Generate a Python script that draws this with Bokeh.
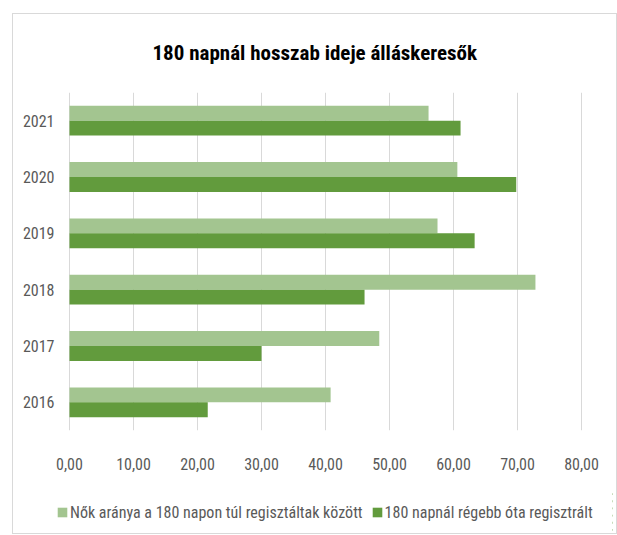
from bokeh.plotting import figure
from bokeh.layouts import column
from bokeh.models import ColumnDataSource, FactorRange, Range1d, FixedTicker, Legend, LegendItem, Title
from bokeh.transform import dodge
from bokeh.embed import file_html
from bokeh.resources import INLINE

years = ["2016", "2017", "2018", "2019", "2020", "2021"]
women_share = [40.8, 48.4, 72.8, 57.5, 60.6, 56.1]
over_180 = [21.6, 30.0, 46.1, 63.3, 69.8, 61.1]
x_ticks = [0, 10, 20, 30, 40, 50, 60, 70, 80]
x_tick_labels = ["0,00", "10,00", "20,00", "30,00", "40,00", "50,00", "60,00", "70,00", "80,00"]
series_names = ["Nők aránya a 180 napon túl regisztáltak között", "180 napnál régebb óta regisztrált"]
title_text = "180 napnál hosszab ideje álláskeresők"

FONT = "Roboto Condensed"
LIGHT = "#a3c590"
DARK = "#629b3d"
GRAY = "#595959"

src = ColumnDataSource(dict(year=years, women=women_share, over=over_180))

# main chart
p = figure(width=603, height=476, y_range=FactorRange(factors=years, range_padding=0),
           x_range=Range1d(-2.03, 84.84), output_backend="svg", toolbar_location=None,
           min_border_left=43, min_border_right=4, min_border_top=78, min_border_bottom=60)

r1 = p.hbar(y=dodge("year", 0.1325, range=p.y_range), right="women", left=0, height=0.265,
            source=src, color=LIGHT, line_color=None)
r2 = p.hbar(y=dodge("year", -0.1325, range=p.y_range), right="over", left=0, height=0.265,
            source=src, color=DARK, line_color=None)

p.outline_line_color = None
p.ygrid.grid_line_color = None
p.xgrid.grid_line_color = "#d9d9d9"
p.xgrid.grid_line_width = 1
p.xaxis.ticker = FixedTicker(ticks=x_ticks)
p.xaxis.major_label_overrides = {t: l for t, l in zip(x_ticks, x_tick_labels)}
p.xaxis.axis_line_color = None
p.xaxis.major_tick_line_color = None
p.xaxis.minor_tick_line_color = None
p.xaxis.major_label_standoff = 21
p.yaxis.axis_line_color = None
p.yaxis.major_tick_line_color = None
p.yaxis.minor_tick_line_color = None
p.yaxis.major_tick_out = 0
p.yaxis.major_tick_in = 0
p.yaxis.major_label_standoff = 2
for ax in (p.xaxis, p.yaxis):
    ax.major_label_text_font = FONT
    ax.major_label_text_font_size = "16px"
    ax.major_label_text_color = GRAY

t = Title(text=title_text, align="left", vertical_align="top", text_font=FONT,
          text_font_size="21px", text_font_style="bold", text_color="#000000",
          standoff=51, offset=96)
p.add_layout(t, "above")

# legend strip
p2 = figure(width=603, height=43, y_range=FactorRange(factors=years), x_range=Range1d(-10, -9),
            output_backend="svg", toolbar_location=None, x_axis_location=None, y_axis_location=None,
            min_border_left=0, min_border_right=0, min_border_top=0, min_border_bottom=0)
p2.outline_line_color = None
p2.grid.grid_line_color = None
l1 = p2.hbar(y="year", right="women", left=0, height=0.265, source=src, color=LIGHT, line_color=None)
l2 = p2.hbar(y="year", right="over", left=0, height=0.265, source=src, color=DARK, line_color=None)

legend = Legend(items=[LegendItem(label=series_names[0], renderers=[l1]),
                       LegendItem(label=series_names[1], renderers=[l2])],
                orientation="horizontal", location=(0, 11.5),
                label_text_font=FONT, label_text_font_size="16px", label_text_color=GRAY,
                glyph_width=12, glyph_height=12, label_standoff=2, spacing=8,
                padding=0, margin=0, border_line_color=None, background_fill_alpha=0,
                label_height=17)
p2.add_layout(legend, "center")

lay = column(p, p2, spacing=0)
lay.margin = (13, 0, 0, 12)
lay.styles = {"border": "1px solid #d9d9d9"}

open("out.html", "w").write(file_html(lay, INLINE))
